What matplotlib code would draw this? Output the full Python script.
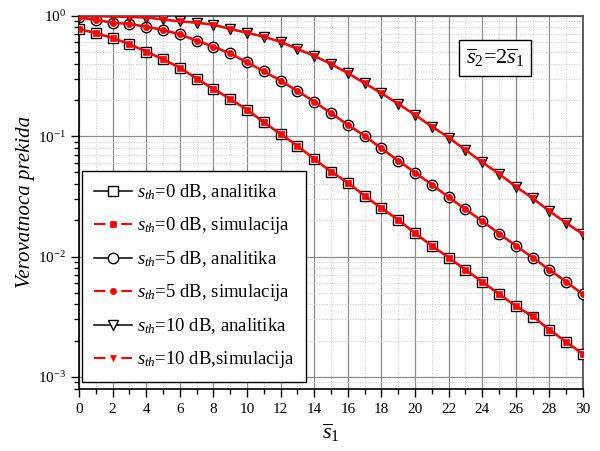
import matplotlib
matplotlib.use("Agg")
import matplotlib.pyplot as plt
from matplotlib.lines import Line2D
from matplotlib.legend_handler import HandlerTuple
from matplotlib.ticker import MultipleLocator, LogLocator, NullFormatter

plt.rcParams.update({
    "font.family": "Liberation Serif",
    "mathtext.fontset": "custom",
    "mathtext.rm": "Liberation Serif",
    "mathtext.it": "Liberation Serif:italic",
    "mathtext.bf": "Liberation Serif:bold",
})

# ---- data ----
s1 = list(range(31))

# s_th = 0 dB
p0_analytic = [0.775, 0.715, 0.653, 0.58, 0.503, 0.434, 0.37, 0.30, 0.247, 0.203,
               0.166, 0.130, 0.104, 0.083, 0.0646, 0.0507, 0.0411, 0.0319, 0.0252, 0.0202,
               0.0156, 0.0123, 0.0098, 0.00776, 0.00617, 0.00488, 0.00388, 0.00314, 0.00247,
               0.00195, 0.00155]
p0_sim = [0.775, 0.715, 0.653, 0.58, 0.503, 0.434, 0.37, 0.30, 0.247, 0.203,
          0.166, 0.130, 0.104, 0.083, 0.0646, 0.0507, 0.0411, 0.0319, 0.0252, 0.0202,
          0.0156, 0.0123, 0.0098, 0.00776, 0.00617, 0.00488, 0.00388, 0.00320, 0.00247,
          0.00195, 0.00155]

# s_th = 5 dB
p5_analytic = [0.97, 0.92, 0.875, 0.853, 0.81, 0.76, 0.70, 0.62, 0.553, 0.485,
               0.41, 0.345, 0.288, 0.237, 0.193, 0.155, 0.124, 0.1005, 0.079, 0.0626,
               0.0498, 0.0396, 0.0311, 0.0247, 0.0197, 0.0155, 0.0123, 0.0098, 0.00776,
               0.00617, 0.00484]
p5_sim = [0.97, 0.92, 0.875, 0.853, 0.81, 0.76, 0.70, 0.62, 0.553, 0.485,
          0.41, 0.345, 0.288, 0.237, 0.193, 0.155, 0.124, 0.1005, 0.079, 0.0626,
          0.0498, 0.0396, 0.0311, 0.0247, 0.0197, 0.0155, 0.0123, 0.0098, 0.00776,
          0.00617, 0.00484]

# s_th = 10 dB
p10_analytic = [0.99, 0.99, 0.985, 0.975, 0.965, 0.93, 0.895, 0.875, 0.84, 0.775,
                0.72, 0.67, 0.605, 0.53, 0.463, 0.397, 0.333, 0.275, 0.227, 0.185,
                0.15, 0.12, 0.0973, 0.0768, 0.0607, 0.0486, 0.0381, 0.0305, 0.0238,
                0.0190, 0.0153]
p10_sim = [0.99, 0.99, 0.985, 0.975, 0.965, 0.93, 0.895, 0.875, 0.84, 0.775,
           0.72, 0.67, 0.605, 0.53, 0.463, 0.397, 0.333, 0.275, 0.227, 0.185,
           0.15, 0.12, 0.0973, 0.0768, 0.0607, 0.0486, 0.0381, 0.0305, 0.0238,
           0.0190, 0.0153]

labels = [r"$s_{th}$=0 dB, analitika", r"$s_{th}$=0 dB, simulacija",
          r"$s_{th}$=5 dB, analitika", r"$s_{th}$=5 dB, simulacija",
          r"$s_{th}$=10 dB, analitika", r"$s_{th}$=10 dB,simulacija"]

series = [(p0_analytic, p0_sim, "s"), (p5_analytic, p5_sim, "o"), (p10_analytic, p10_sim, "v")]

fig = plt.figure(figsize=(6.0, 4.51), dpi=100)
ax = fig.add_axes([0.1317, 0.1375, 0.84, 0.8278])

handles = []
for ana, sim, mk in series:
    ax.plot(s1, ana, color="black", lw=1.1, marker=mk, ms=7.5, mfc="white", mec="black",
            mew=1.0, zorder=3)
    ax.plot(s1, sim, color="red", lw=1.8, marker=mk, ms=4.5, mfc="red", mec="red",
            mew=0.5, zorder=4)
    handles.append(Line2D([], [], color="black", lw=1.1, marker=mk, ms=7.5, mfc="white",
                          mec="black", mew=1.0))
    # legend: red segment - gap - small marker - gap - red segment
    seg = Line2D([], [], color="red", lw=1.5, ls=(0, (5.5, 7.6)), dash_capstyle="butt")
    dot = Line2D([], [], color="red", ls="none", marker=mk, ms=4.5, mfc="red", mec="red",
                 mew=0.5)
    handles.append((seg, dot))

ax.set_yscale("log")
ax.set_xlim(0, 30)
ax.set_ylim(10 ** -3.1, 1.0)

ax.xaxis.set_major_locator(MultipleLocator(2))
ax.xaxis.set_minor_locator(MultipleLocator(1))
ax.yaxis.set_major_locator(LogLocator(base=10, numticks=10))
ax.yaxis.set_minor_locator(LogLocator(base=10, subs=range(2, 10), numticks=20))
ax.yaxis.set_minor_formatter(NullFormatter())

ax.grid(which="major", color="#8c8c8c", lw=0.9, ls="-")
ax.grid(which="minor", color="#c4c4c4", lw=0.7, ls=":")
ax.set_axisbelow(True)

ax.tick_params(which="both", direction="out", labelsize=11, width=1.0, colors="black",
               top=False, right=False)
ax.tick_params(which="major", length=6)
ax.tick_params(which="minor", length=3.5)
ax.tick_params(axis="x", pad=4)
for sp in ax.spines.values():
    sp.set_linewidth(1.2)
    sp.set_color("black")
ax.spines["top"].set_color("#444444")
ax.spines["right"].set_color("#444444")

ax.set_xlabel(r"$\overline{s}_1$", fontsize=16, labelpad=4)
ax.set_ylabel("Verovatnoca prekida", fontsize=15, fontstyle="italic", labelpad=2)

ax.text(0.826, 0.887, r"$\overline{s}_2$=2$\overline{s}_1$", transform=ax.transAxes,
        fontsize=16, ha="center", va="center",
        bbox=dict(boxstyle="square,pad=0.3", fc="white", ec="black", lw=1.0), zorder=6)

leg = ax.legend(handles, labels, loc="lower left", bbox_to_anchor=(0.006, 0.019),
                handler_map={tuple: HandlerTuple(ndivide=1, pad=0.0)},
                fontsize=13.5, frameon=True, fancybox=False, edgecolor="black",
                framealpha=1.0, handlelength=2.05, handletextpad=0.25,
                labelspacing=0.7, borderpad=0.62, borderaxespad=0.0)
leg.get_frame().set_linewidth(1.0)
leg.set_zorder(7)

fig.savefig("out.png", dpi=100)
